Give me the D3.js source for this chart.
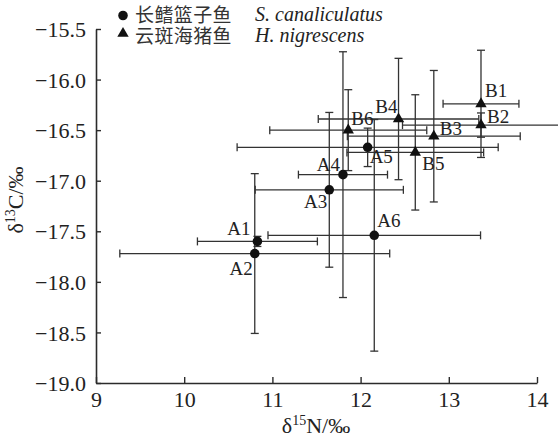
<!DOCTYPE html>
<html>
<head>
<meta charset="utf-8">
<script src="https://cdn.jsdelivr.net/npm/d3@7"></script>
<style>
  body { margin: 0; background: #fff; }
</style>
</head>
<body>
<div class="chart"></div>
<script>
// data
var labels  = ["A1", "A2", "A3", "A4", "A5", "A6", "B1", "B2", "B3", "B4", "B5", "B6"];
var species = ["S", "S", "S", "S", "S", "S", "H", "H", "H", "H", "H", "H"];
var nVals   = [10.83, 10.80, 11.645, 11.80, 12.08, 12.155, 13.365, 13.365, 12.83, 12.43, 12.62, 11.86];
var cVals   = [-17.60, -17.72, -17.09, -16.94, -16.67, -17.54, -16.24, -16.45, -16.56, -16.39, -16.72, -16.50];
var nSd     = [0.68, 1.53, 0.84, 0.505, 1.48, 1.205, 0.43, 0.89, 0.98, 0.91, 0.775, 0.89];
var cSd     = [0.05, 0.79, 0.765, 1.215, 0.19, 1.145, 0.53, 0.12, 0.65, 0.60, 0.57, 0.40];

var legendCn = ["长鳍篮子鱼", "云斑海猪鱼"];
var legendLatin = ["S. canaliculatus", "H. nigrescens"];
var xTicks = [9, 10, 11, 12, 13, 14];
var yTicks = [-15.5, -16.0, -16.5, -17.0, -17.5, -18.0, -18.5, -19.0];

// where each point label sits relative to its marker
var labelPos = {
  A1: [-7, -6, "end"], A2: [-2, 21, "end"], A3: [-2, 18, "end"],
  A4: [-3, -4, "end"], A5: [2, 16, "start"], A6: [3, -8, "start"],
  B1: [4, -7, "start"], B2: [6, -2, "start"], B3: [6, -1, "start"],
  B4: [-1, -6, "end"], B5: [7, 18, "start"], B6: [3, -5, "start"]
};

var serif = "'Liberation Serif', 'Times New Roman', 'DejaVu Serif', serif";
var cjk = "'Noto Sans CJK SC', sans-serif";

var svgWidth = 558;
var svgHeight = 439;

var svg = d3.select(".chart")
    .append("svg")
    .attr("width", svgWidth)
    .attr("height", svgHeight)
    .style("font-family", serif);

var x = d3.scaleLinear().domain([9, 14]).range([96, 537]);
var y = d3.scaleLinear().domain([-19, -15.5]).range([383, 29]);

var ink = "#2b2b2b";
var fmt = d3.format(".1f");

// axes
var xAxis = svg.append("g")
    .attr("transform", "translate(0,383)")
    .call(d3.axisBottom(x).tickValues(xTicks).tickSizeInner(-6).tickSizeOuter(0).tickPadding(8).tickFormat(d3.format("d")));
var yAxis = svg.append("g")
    .attr("transform", "translate(96,0)")
    .call(d3.axisLeft(y).tickValues(yTicks).tickSizeInner(-5).tickSizeOuter(0).tickPadding(10).tickFormat(fmt));

[xAxis, yAxis].forEach(function(a) {
    a.attr("font-family", null).attr("font-size", null);
    a.select(".domain").attr("stroke", ink).attr("stroke-width", 1.6);
    a.selectAll(".tick line").attr("stroke", ink).attr("stroke-width", 1.4);
    a.selectAll(".tick text").style("font-family", serif).style("font-size", "22px").attr("fill", "#222");
});
yAxis.selectAll(".tick text").attr("dy", "0.35em");

// axis titles
var xt = svg.append("text")
    .attr("x", 316).attr("y", 433)
    .attr("text-anchor", "middle")
    .style("font-family", serif)
    .style("font-size", "22px")
    .attr("fill", "#222");
xt.append("tspan").text("δ");
xt.append("tspan").style("font-size", "14px").attr("dy", -8).text("15");
xt.append("tspan").attr("dy", 8).text("N/‰");

var yt = svg.append("text")
    .attr("transform", "translate(23,200) rotate(-90)")
    .attr("text-anchor", "middle")
    .style("font-family", serif)
    .style("font-size", "22px")
    .attr("fill", "#222");
yt.append("tspan").text("δ");
yt.append("tspan").style("font-size", "14px").attr("dy", -8).text("13");
yt.append("tspan").attr("dy", 8).text("C/‰");

var pts = labels.map(function(l, i) {
    return { label: l, sp: species[i], n: nVals[i], c: cVals[i], sn: nSd[i], sc: cSd[i] };
});

var cap = 4;
var bars = svg.append("g")
    .attr("stroke", "#333")
    .attr("stroke-width", 1.3)
    .attr("fill", "none");

pts.forEach(function(d) {
    var g = bars.append("g");
    // horizontal
    g.append("line").attr("x1", x(d.n - d.sn)).attr("x2", x(d.n + d.sn)).attr("y1", y(d.c)).attr("y2", y(d.c));
    g.append("line").attr("x1", x(d.n - d.sn)).attr("x2", x(d.n - d.sn)).attr("y1", y(d.c) - cap).attr("y2", y(d.c) + cap);
    g.append("line").attr("x1", x(d.n + d.sn)).attr("x2", x(d.n + d.sn)).attr("y1", y(d.c) - cap).attr("y2", y(d.c) + cap);
    // vertical
    g.append("line").attr("x1", x(d.n)).attr("x2", x(d.n)).attr("y1", y(d.c - d.sc)).attr("y2", y(d.c + d.sc));
    g.append("line").attr("x1", x(d.n) - cap).attr("x2", x(d.n) + cap).attr("y1", y(d.c - d.sc)).attr("y2", y(d.c - d.sc));
    g.append("line").attr("x1", x(d.n) - cap).attr("x2", x(d.n) + cap).attr("y1", y(d.c + d.sc)).attr("y2", y(d.c + d.sc));
});

var circle = d3.symbol().type(d3.symbolCircle).size(72);
var tri = d3.symbol().type(d3.symbolTriangle).size(56);

svg.append("g").selectAll("path")
    .data(pts)
    .join("path")
    .attr("d", function(d) { return d.sp === "S" ? circle() : tri(); })
    .attr("transform", function(d) { return "translate(" + x(d.n) + "," + y(d.c) + ")"; })
    .attr("fill", "#111");

svg.append("g").selectAll("text")
    .data(pts)
    .join("text")
    .attr("x", function(d) { return x(d.n) + labelPos[d.label][0]; })
    .attr("y", function(d) { return y(d.c) + labelPos[d.label][1]; })
    .attr("text-anchor", function(d) { return labelPos[d.label][2]; })
    .style("font-family", serif)
    .style("font-size", "19px")
    .attr("fill", "#222")
    .text(function(d) { return d.label; });

// legend
var leg = svg.append("g");
var markY = [15.5, 33.5];
legendCn.forEach(function(name, i) {
    var base = 21 + i * 21;
    leg.append("path")
        .attr("d", i === 0 ? circle() : tri())
        .attr("transform", "translate(123," + markY[i] + ")")
        .attr("fill", "#111");
    leg.append("text")
        .attr("x", 135).attr("y", base + 1)
        .style("font-family", cjk)
        .style("font-size", "19px")
        .style("letter-spacing", "0.4px")
        .attr("fill", "#333")
        .text(name);
    leg.append("text")
        .attr("x", 255).attr("y", base)
        .style("font-family", serif)
        .style("font-size", "20px")
        .style("font-style", "italic")
        .attr("fill", "#222")
        .text(legendLatin[i]);
});
</script>
</body>
</html>
